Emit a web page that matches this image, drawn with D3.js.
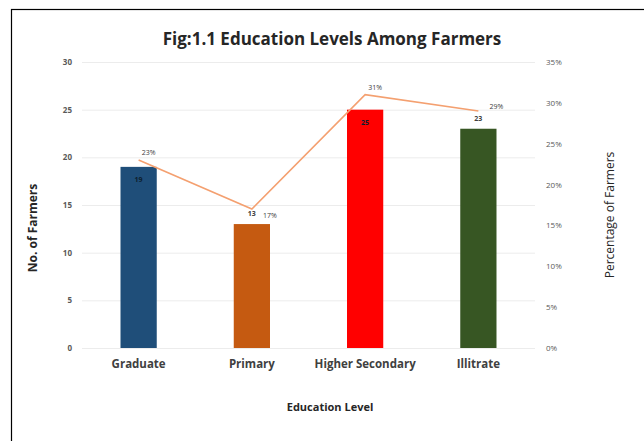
<!DOCTYPE html>
<html>
<head>
<meta charset="utf-8">
<script src="https://cdn.jsdelivr.net/npm/d3@7"></script>
<style>
  body { margin: 0; background: #fff; }
  text { font-family: "Open Sans", "Liberation Sans", sans-serif; }
</style>
</head>
<body>
<div id="chart"></div>
<script>
// ----------------------------
// Data
// ----------------------------
var levels = ["Graduate", "Primary", "Higher Secondary", "Illitrate"];
var farmers = [19, 13, 25, 23];
var percents = [23, 17, 31, 29];
var barColors = ["#1f4e79", "#c55a11", "#ff0000", "#375623"];
var countTicks = [0, 5, 10, 15, 20, 25, 30];
var pctTicks = [0, 5, 10, 15, 20, 25, 30, 35];
// where the count label sits: inside the bar top or above it
var labelInside = [true, false, true, false];

var W = 644, H = 441;
var margin = { left: 82, right: 109, top: 62, bottom: 93 };

var svg = d3.select("#chart").append("svg")
  .attr("width", W)
  .attr("height", H);

// frame around the figure
svg.append("rect")
  .attr("x", 11.5).attr("y", 9.5)
  .attr("width", 660).attr("height", 460)
  .attr("fill", "none")
  .attr("stroke", "#000")
  .attr("stroke-width", 1.2);

// ----------------------------
// Scales
// ----------------------------
var x = d3.scaleBand()
  .domain(levels)
  .range([margin.left, W - margin.right])
  .paddingInner(0.68)
  .paddingOuter(0.34);

var yLeft = d3.scaleLinear()
  .domain([0, 30])
  .range([H - margin.bottom, margin.top]);

var yRight = d3.scaleLinear()
  .domain([0, 35])
  .range([H - margin.bottom, margin.top]);

// ----------------------------
// Grid lines
// ----------------------------
svg.append("g")
  .selectAll("line")
  .data(countTicks)
  .enter()
  .append("line")
  .attr("x1", margin.left)
  .attr("x2", W - margin.right)
  .attr("y1", d => yLeft(d) + 0.5)
  .attr("y2", d => yLeft(d) + 0.5)
  .attr("stroke", "#ececec")
  .attr("stroke-width", 1);

// ----------------------------
// Axes (labels only, no domain lines)
// ----------------------------
var leftAxis = svg.append("g")
  .attr("transform", `translate(${margin.left - 10},0)`)
  .call(d3.axisLeft(yLeft).tickValues(countTicks).tickSize(0).tickPadding(0));
leftAxis.select(".domain").remove();
leftAxis.selectAll("text")
  .attr("font-size", 8)
  .attr("font-weight", "bold")
  .attr("fill", "#595959")
  .attr("font-family", "Open Sans, sans-serif");

var rightAxis = svg.append("g")
  .attr("transform", `translate(${W - margin.right + 11},0)`)
  .call(d3.axisRight(yRight).tickValues(pctTicks).tickSize(0).tickPadding(0)
    .tickFormat(d => d + "%"));
rightAxis.select(".domain").remove();
rightAxis.selectAll("text")
  .attr("font-size", 8)
  .attr("fill", "#595959")
  .attr("font-family", "Liberation Serif, serif");

var bottomAxis = svg.append("g")
  .attr("transform", `translate(0,${H - margin.bottom + 12})`)
  .call(d3.axisBottom(x).tickSize(0).tickPadding(0));
bottomAxis.select(".domain").remove();
bottomAxis.selectAll("text")
  .attr("font-size", 11.5)
  .attr("font-weight", "bold")
  .attr("fill", "#404040")
  .attr("font-family", "Open Sans, sans-serif");

// ----------------------------
// Bars
// ----------------------------
svg.append("g")
  .selectAll("rect")
  .data(levels)
  .enter()
  .append("rect")
  .attr("x", d => x(d))
  .attr("y", (d, i) => yLeft(farmers[i]))
  .attr("width", x.bandwidth())
  .attr("height", (d, i) => yLeft(0) - yLeft(farmers[i]))
  .attr("fill", (d, i) => barColors[i]);

// count labels
svg.append("g")
  .selectAll("text")
  .data(levels)
  .enter()
  .append("text")
  .attr("x", d => x(d) + x.bandwidth() / 2)
  .attr("y", (d, i) => labelInside[i] ? yLeft(farmers[i]) + 15 : yLeft(farmers[i]) - 8)
  .attr("text-anchor", "middle")
  .attr("font-size", 7)
  .attr("font-weight", "bold")
  .attr("fill", (d, i) => labelInside[i] ? "#0d1e2e" : "#404040")
  .text((d, i) => farmers[i]);

// ----------------------------
// Percentage line
// ----------------------------
var line = d3.line()
  .x(d => x(d.level) + x.bandwidth() / 2)
  .y(d => yRight(d.pct));

var pts = levels.map((l, i) => ({ level: l, pct: percents[i] }));

svg.append("path")
  .datum(pts)
  .attr("d", line)
  .attr("fill", "none")
  .attr("stroke", "#f4a070")
  .attr("stroke-width", 1.6);

svg.append("g")
  .selectAll("text")
  .data(pts)
  .enter()
  .append("text")
  .attr("x", d => x(d.level) + x.bandwidth() / 2 + 3)
  .attr("y", (d, i) => yRight(d.pct) - (i == 1 ? -9 : 5))
  .attr("dx", (d, i) => i == 1 || i == 3 ? 8 : 0)
  .attr("dy", (d, i) => i == 3 ? 3 : 0)
  .attr("font-size", 7)
  .attr("fill", "#404040")
  .text(d => d.pct + "%");

// ----------------------------
// Titles
// ----------------------------
svg.append("text")
  .attr("x", 332)
  .attr("y", 45)
  .attr("text-anchor", "middle")
  .attr("font-size", 17)
  .attr("font-weight", "bold")
  .attr("fill", "#262626")
  .text("Fig:1.1 Education Levels Among Farmers");

svg.append("text")
  .attr("x", 330)
  .attr("y", 411)
  .attr("text-anchor", "middle")
  .attr("font-size", 11)
  .attr("font-weight", "bold")
  .attr("fill", "#262626")
  .text("Education Level");

svg.append("text")
  .attr("transform", "translate(37,228) rotate(-90)")
  .attr("text-anchor", "middle")
  .attr("font-size", 12)
  .attr("font-weight", "bold")
  .attr("fill", "#262626")
  .text("No. of Farmers");

svg.append("text")
  .attr("transform", "translate(614,215) rotate(-90)")
  .attr("text-anchor", "middle")
  .attr("font-size", 12)
  .attr("fill", "#262626")
  .text("Percentage of Farmers");
</script>
</body>
</html>
